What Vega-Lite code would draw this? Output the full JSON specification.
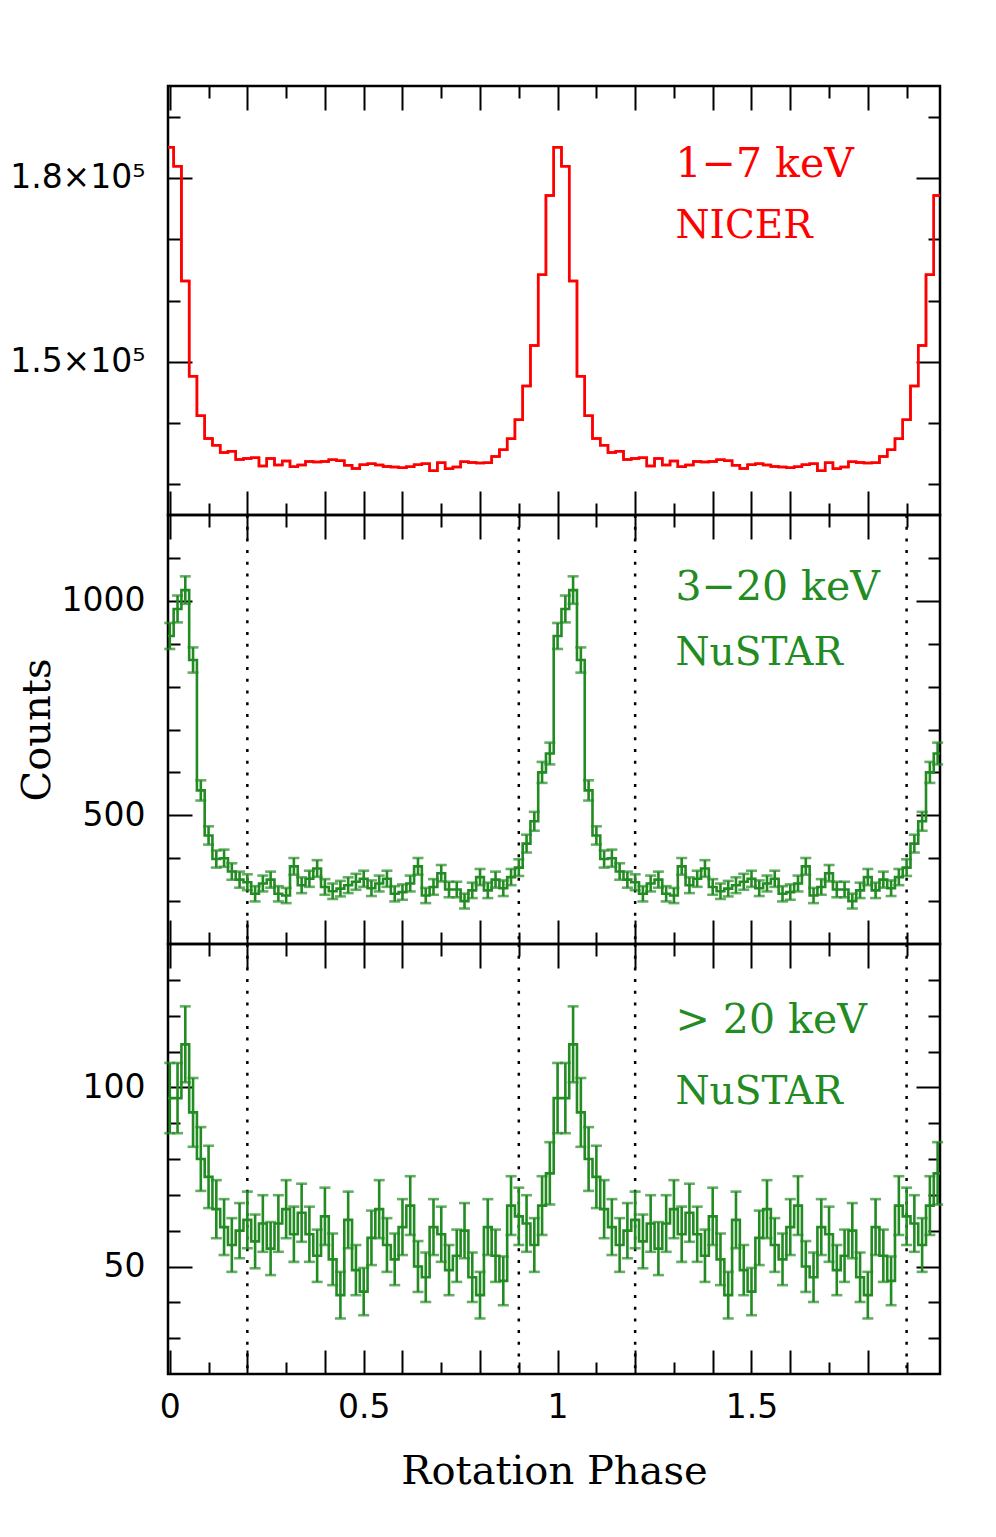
{
"$schema": "https://vega.github.io/schema/vega-lite/v6.json",
"background": "white",
"padding": {"left": 8, "top": 83, "right": 10, "bottom": 10},
"spacing": 0,
"bounds": "flush",
"config": {
 "view": {"stroke": "black", "strokeWidth": 2.5},
 "axis": {"domain": false, "grid": false, "tickColor": "black", "tickWidth": 2, "labelFont": "DejaVu Sans", "labelFontSize": 33, "labelColor": "black", "labelFlush": false, "labelOverlap": false, "labelBound": false, "titleFont": "DejaVu Serif", "titleFontSize": 40, "titleFontWeight": "normal", "titleColor": "black"}
},
"datasets": {
 "nicer": [{"p":-0.02,"c":177130},
{"p":0,"c":185000},{"p":0.02,"c":181900},{"p":0.04,"c":163200},{"p":0.06,"c":147650},{"p":0.08,"c":141200},{"p":0.1,"c":137490},{"p":0.12,"c":136400},{"p":0.14,"c":135200},{"p":0.16,"c":135400},{"p":0.18,"c":134070},{"p":0.2,"c":134200},{"p":0.22,"c":134350},{"p":0.24,"c":133000},{"p":0.26,"c":134200},{"p":0.28,"c":133150},{"p":0.3,"c":133800},{"p":0.32,"c":132880},{"p":0.34,"c":133150},{"p":0.36,"c":133750},{"p":0.38,"c":133650},{"p":0.4,"c":133750},{"p":0.42,"c":134020},{"p":0.44,"c":133850},{"p":0.46,"c":133100},{"p":0.48,"c":132600},{"p":0.5,"c":133200},{"p":0.52,"c":133370},{"p":0.54,"c":133150},{"p":0.56,"c":132930},{"p":0.58,"c":132830},{"p":0.6,"c":132720},{"p":0.62,"c":132880},{"p":0.64,"c":133200},{"p":0.66,"c":133370},{"p":0.68,"c":132230},{"p":0.7,"c":133530},{"p":0.72,"c":132560},{"p":0.74,"c":132830},{"p":0.76,"c":133700},{"p":0.78,"c":133580},{"p":0.8,"c":133480},{"p":0.82,"c":133530},{"p":0.84,"c":134560},{"p":0.86,"c":135650},{"p":0.88,"c":137440},{"p":0.9,"c":140540},{"p":0.92,"c":146030},{"p":0.94,"c":152640},{"p":0.96,"c":164200},{"p":0.98,"c":177130},
{"p":1,"c":185000},{"p":1.02,"c":181900},{"p":1.04,"c":163200},{"p":1.06,"c":147650},{"p":1.08,"c":141200},{"p":1.1,"c":137490},{"p":1.12,"c":136400},{"p":1.14,"c":135200},{"p":1.16,"c":135400},{"p":1.18,"c":134070},{"p":1.2,"c":134200},{"p":1.22,"c":134350},{"p":1.24,"c":133000},{"p":1.26,"c":134200},{"p":1.28,"c":133150},{"p":1.3,"c":133800},{"p":1.32,"c":132880},{"p":1.34,"c":133150},{"p":1.36,"c":133750},{"p":1.38,"c":133650},{"p":1.4,"c":133750},{"p":1.42,"c":134020},{"p":1.44,"c":133850},{"p":1.46,"c":133100},{"p":1.48,"c":132600},{"p":1.5,"c":133200},{"p":1.52,"c":133370},{"p":1.54,"c":133150},{"p":1.56,"c":132930},{"p":1.58,"c":132830},{"p":1.6,"c":132720},{"p":1.62,"c":132880},{"p":1.64,"c":133200},{"p":1.66,"c":133370},{"p":1.68,"c":132230},{"p":1.7,"c":133530},{"p":1.72,"c":132560},{"p":1.74,"c":132830},{"p":1.76,"c":133700},{"p":1.78,"c":133580},{"p":1.8,"c":133480},{"p":1.82,"c":133530},{"p":1.84,"c":134560},{"p":1.86,"c":135650},{"p":1.88,"c":137440},{"p":1.9,"c":140540},{"p":1.92,"c":146030},{"p":1.94,"c":152640},{"p":1.96,"c":164200},{"p":1.98,"c":177130},
{"p":2,"c":185000}],
 "nu1": [{"p":-0.02,"c":644,"e":25.4},
{"p":0,"c":918,"e":30.3},{"p":0.02,"c":981,"e":31.3},{"p":0.04,"c":1025,"e":32.0},{"p":0.06,"c":862,"e":29.4},{"p":0.08,"c":558,"e":23.6},{"p":0.1,"c":453,"e":21.3},{"p":0.12,"c":398,"e":19.9},{"p":0.14,"c":400,"e":20.0},{"p":0.16,"c":369,"e":19.2},{"p":0.18,"c":350,"e":18.7},{"p":0.2,"c":344,"e":18.5},{"p":0.22,"c":317,"e":17.8},{"p":0.24,"c":341,"e":18.5},{"p":0.26,"c":350,"e":18.7},{"p":0.28,"c":317,"e":17.8},{"p":0.3,"c":313,"e":17.7},{"p":0.32,"c":381,"e":19.5},{"p":0.34,"c":337,"e":18.4},{"p":0.36,"c":352,"e":18.8},{"p":0.38,"c":376,"e":19.4},{"p":0.4,"c":333,"e":18.2},{"p":0.42,"c":323,"e":18.0},{"p":0.44,"c":329,"e":18.1},{"p":0.46,"c":337,"e":18.4},{"p":0.48,"c":345,"e":18.6},{"p":0.5,"c":352,"e":18.8},{"p":0.52,"c":330,"e":18.2},{"p":0.54,"c":341,"e":18.5},{"p":0.56,"c":352,"e":18.8},{"p":0.58,"c":317,"e":17.8},{"p":0.6,"c":321,"e":17.9},{"p":0.62,"c":341,"e":18.5},{"p":0.64,"c":381,"e":19.5},{"p":0.66,"c":313,"e":17.7},{"p":0.68,"c":333,"e":18.2},{"p":0.7,"c":365,"e":19.1},{"p":0.72,"c":327,"e":18.1},{"p":0.74,"c":327,"e":18.1},{"p":0.76,"c":300,"e":17.3},{"p":0.78,"c":325,"e":18.0},{"p":0.8,"c":356,"e":18.9},{"p":0.82,"c":325,"e":18.0},{"p":0.84,"c":350,"e":18.7},{"p":0.86,"c":330,"e":18.2},{"p":0.88,"c":356,"e":18.9},{"p":0.9,"c":378,"e":19.4},{"p":0.92,"c":434,"e":20.8},{"p":0.94,"c":486,"e":22.0},{"p":0.96,"c":600,"e":24.5},{"p":0.98,"c":644,"e":25.4},
{"p":1,"c":918,"e":30.3},{"p":1.02,"c":981,"e":31.3},{"p":1.04,"c":1025,"e":32.0},{"p":1.06,"c":862,"e":29.4},{"p":1.08,"c":558,"e":23.6},{"p":1.1,"c":453,"e":21.3},{"p":1.12,"c":398,"e":19.9},{"p":1.14,"c":400,"e":20.0},{"p":1.16,"c":369,"e":19.2},{"p":1.18,"c":350,"e":18.7},{"p":1.2,"c":344,"e":18.5},{"p":1.22,"c":317,"e":17.8},{"p":1.24,"c":341,"e":18.5},{"p":1.26,"c":350,"e":18.7},{"p":1.28,"c":317,"e":17.8},{"p":1.3,"c":313,"e":17.7},{"p":1.32,"c":381,"e":19.5},{"p":1.34,"c":337,"e":18.4},{"p":1.36,"c":352,"e":18.8},{"p":1.38,"c":376,"e":19.4},{"p":1.4,"c":333,"e":18.2},{"p":1.42,"c":323,"e":18.0},{"p":1.44,"c":329,"e":18.1},{"p":1.46,"c":337,"e":18.4},{"p":1.48,"c":345,"e":18.6},{"p":1.5,"c":352,"e":18.8},{"p":1.52,"c":330,"e":18.2},{"p":1.54,"c":341,"e":18.5},{"p":1.56,"c":352,"e":18.8},{"p":1.58,"c":317,"e":17.8},{"p":1.6,"c":321,"e":17.9},{"p":1.62,"c":341,"e":18.5},{"p":1.64,"c":381,"e":19.5},{"p":1.66,"c":313,"e":17.7},{"p":1.68,"c":333,"e":18.2},{"p":1.7,"c":365,"e":19.1},{"p":1.72,"c":327,"e":18.1},{"p":1.74,"c":327,"e":18.1},{"p":1.76,"c":300,"e":17.3},{"p":1.78,"c":325,"e":18.0},{"p":1.8,"c":356,"e":18.9},{"p":1.82,"c":325,"e":18.0},{"p":1.84,"c":350,"e":18.7},{"p":1.86,"c":330,"e":18.2},{"p":1.88,"c":356,"e":18.9},{"p":1.9,"c":378,"e":19.4},{"p":1.92,"c":434,"e":20.8},{"p":1.94,"c":486,"e":22.0},{"p":1.96,"c":600,"e":24.5},{"p":1.98,"c":644,"e":25.4},
{"p":2,"c":918,"e":30.3}],
 "nu2": [{"p":-0.02,"c":76,"e":8.7},
{"p":0,"c":97,"e":9.8},{"p":0.02,"c":97,"e":9.8},{"p":0.04,"c":112,"e":10.6},{"p":0.06,"c":93,"e":9.6},{"p":0.08,"c":80,"e":8.9},{"p":0.1,"c":75,"e":8.7},{"p":0.12,"c":66,"e":8.1},{"p":0.14,"c":61,"e":7.8},{"p":0.16,"c":56,"e":7.5},{"p":0.18,"c":60,"e":7.7},{"p":0.2,"c":63,"e":7.9},{"p":0.22,"c":57,"e":7.5},{"p":0.24,"c":62,"e":7.9},{"p":0.26,"c":55,"e":7.4},{"p":0.28,"c":62,"e":7.9},{"p":0.3,"c":66,"e":8.1},{"p":0.32,"c":59,"e":7.7},{"p":0.34,"c":65,"e":8.1},{"p":0.36,"c":59,"e":7.7},{"p":0.38,"c":53,"e":7.3},{"p":0.4,"c":64,"e":8.0},{"p":0.42,"c":52,"e":7.2},{"p":0.44,"c":42,"e":6.5},{"p":0.46,"c":63,"e":7.9},{"p":0.48,"c":49,"e":7.0},{"p":0.5,"c":43,"e":6.6},{"p":0.52,"c":58,"e":7.6},{"p":0.54,"c":66,"e":8.1},{"p":0.56,"c":56,"e":7.5},{"p":0.58,"c":52,"e":7.2},{"p":0.6,"c":61,"e":7.8},{"p":0.62,"c":67,"e":8.2},{"p":0.64,"c":50,"e":7.1},{"p":0.66,"c":47,"e":6.9},{"p":0.68,"c":61,"e":7.8},{"p":0.7,"c":59,"e":7.7},{"p":0.72,"c":49,"e":7.0},{"p":0.74,"c":53,"e":7.3},{"p":0.76,"c":60,"e":7.7},{"p":0.78,"c":47,"e":6.9},{"p":0.8,"c":42,"e":6.5},{"p":0.82,"c":61,"e":7.8},{"p":0.84,"c":53,"e":7.3},{"p":0.86,"c":46,"e":6.8},{"p":0.88,"c":67,"e":8.2},{"p":0.9,"c":64,"e":8.0},{"p":0.92,"c":62,"e":7.9},{"p":0.94,"c":56,"e":7.5},{"p":0.96,"c":67,"e":8.2},{"p":0.98,"c":76,"e":8.7},
{"p":1,"c":97,"e":9.8},{"p":1.02,"c":97,"e":9.8},{"p":1.04,"c":112,"e":10.6},{"p":1.06,"c":93,"e":9.6},{"p":1.08,"c":80,"e":8.9},{"p":1.1,"c":75,"e":8.7},{"p":1.12,"c":66,"e":8.1},{"p":1.14,"c":61,"e":7.8},{"p":1.16,"c":56,"e":7.5},{"p":1.18,"c":60,"e":7.7},{"p":1.2,"c":63,"e":7.9},{"p":1.22,"c":57,"e":7.5},{"p":1.24,"c":62,"e":7.9},{"p":1.26,"c":55,"e":7.4},{"p":1.28,"c":62,"e":7.9},{"p":1.3,"c":66,"e":8.1},{"p":1.32,"c":59,"e":7.7},{"p":1.34,"c":65,"e":8.1},{"p":1.36,"c":59,"e":7.7},{"p":1.38,"c":53,"e":7.3},{"p":1.4,"c":64,"e":8.0},{"p":1.42,"c":52,"e":7.2},{"p":1.44,"c":42,"e":6.5},{"p":1.46,"c":63,"e":7.9},{"p":1.48,"c":49,"e":7.0},{"p":1.5,"c":43,"e":6.6},{"p":1.52,"c":58,"e":7.6},{"p":1.54,"c":66,"e":8.1},{"p":1.56,"c":56,"e":7.5},{"p":1.58,"c":52,"e":7.2},{"p":1.6,"c":61,"e":7.8},{"p":1.62,"c":67,"e":8.2},{"p":1.64,"c":50,"e":7.1},{"p":1.66,"c":47,"e":6.9},{"p":1.68,"c":61,"e":7.8},{"p":1.7,"c":59,"e":7.7},{"p":1.72,"c":49,"e":7.0},{"p":1.74,"c":53,"e":7.3},{"p":1.76,"c":60,"e":7.7},{"p":1.78,"c":47,"e":6.9},{"p":1.8,"c":42,"e":6.5},{"p":1.82,"c":61,"e":7.8},{"p":1.84,"c":53,"e":7.3},{"p":1.86,"c":46,"e":6.8},{"p":1.88,"c":67,"e":8.2},{"p":1.9,"c":64,"e":8.0},{"p":1.92,"c":62,"e":7.9},{"p":1.94,"c":56,"e":7.5},{"p":1.96,"c":67,"e":8.2},{"p":1.98,"c":76,"e":8.7},
{"p":2,"c":97,"e":9.8}],
 "marks": [{"p":0.2},{"p":0.9},{"p":1.2},{"p":1.9}]
},
"vconcat": [
 {
  "width": 772, "height": 429,
  "layer": [
   {"data": {"name": "nicer"},
    "mark": {"type": "line", "interpolate": "step", "color": "#ff0000", "strokeWidth": 2.5, "clip": true},
    "encoding": {
     "x": {"field": "p", "type": "quantitative", "scale": {"domain": [-0.0046, 1.9861], "nice": false, "zero": false},
      "axis": {"orient": "bottom", "title": null, "labels": false, "values": [0,0.1,0.2,0.3,0.4,0.5,0.6,0.7,0.8,0.9,1,1.1,1.2,1.3,1.4,1.5,1.6,1.7,1.8,1.9],
       "tickSize": {"condition": {"test": "abs(datum.value*5-round(datum.value*5))<0.001 || abs(datum.value*2-round(datum.value*2))<0.001", "value": -24}, "value": -12}}},
     "y": {"field": "c", "type": "quantitative", "scale": {"domain": [125000, 195000], "nice": false, "zero": false},
      "axis": {"orient": "left", "title": null, "values": [130000,140000,150000,160000,170000,180000,190000],
       "labelExpr": "datum.value == 180000 ? '1.8×10⁵' : datum.value == 150000 ? '1.5×10⁵' : ''",
       "labelPadding": 47, "labelBaseline": "middle",
       "tickSize": {"condition": {"test": "datum.value == 150000 || datum.value == 180000", "value": -24}, "value": -12}}}
    }},
   {"data": {"name": "nicer"},
    "mark": {"type": "line", "interpolate": "step", "color": "#ff0000", "strokeWidth": 2.5, "clip": true},
    "encoding": {
     "x": {"field": "p", "type": "quantitative",
      "axis": {"orient": "top", "title": null, "labels": false, "values": [0,0.1,0.2,0.3,0.4,0.5,0.6,0.7,0.8,0.9,1,1.1,1.2,1.3,1.4,1.5,1.6,1.7,1.8,1.9],
       "tickSize": {"condition": {"test": "abs(datum.value*5-round(datum.value*5))<0.001 || abs(datum.value*2-round(datum.value*2))<0.001", "value": -24}, "value": -12}}},
     "y": {"field": "c", "type": "quantitative",
      "axis": {"orient": "right", "title": null, "labels": false, "values": [130000,140000,150000,160000,170000,180000,190000],
       "tickSize": {"condition": {"test": "datum.value == 150000 || datum.value == 180000", "value": -24}, "value": -12}}}
    }},
   {"data": {"values": [{"label": "1−7 keV"}]},
    "mark": {"type": "text", "align": "left", "baseline": "middle", "font": "DejaVu Serif", "fontSize": 41, "color": "#ff0000"},
    "encoding": {"x": {"datum": 1.304, "type": "quantitative", "axis": null}, "y": {"datum": 182070, "type": "quantitative", "axis": null}, "text": {"field": "label"}}},
   {"data": {"values": [{"label": "NICER"}]},
    "mark": {"type": "text", "align": "left", "baseline": "middle", "font": "DejaVu Serif", "fontSize": 39, "color": "#ff0000"},
    "encoding": {"x": {"datum": 1.304, "type": "quantitative", "axis": null}, "y": {"datum": 172130, "type": "quantitative", "axis": null}, "text": {"field": "label"}}}
  ],
  "resolve": {"axis": {"x": "independent", "y": "independent"}}
 },
 {
  "width": 772, "height": 429,
  "layer": [
   {"data": {"name": "marks"},
    "mark": {"type": "rule", "color": "black", "strokeWidth": 2.5, "strokeDash": [3, 8.7]},
    "encoding": {"x": {"field": "p", "type": "quantitative", "axis": null, "scale": {"domain": [-0.0046, 1.9861], "nice": false, "zero": false}}}},
   {"data": {"name": "nu1"},
    "mark": {"type": "line", "interpolate": "step", "color": "#228b22", "strokeWidth": 2.6, "clip": true},
    "encoding": {
     "x": {"field": "p", "type": "quantitative",
      "axis": {"orient": "bottom", "title": null, "labels": false, "values": [0,0.1,0.2,0.3,0.4,0.5,0.6,0.7,0.8,0.9,1,1.1,1.2,1.3,1.4,1.5,1.6,1.7,1.8,1.9],
       "tickSize": {"condition": {"test": "abs(datum.value*5-round(datum.value*5))<0.001 || abs(datum.value*2-round(datum.value*2))<0.001", "value": -24}, "value": -12}}},
     "y": {"field": "c", "type": "quantitative", "scale": {"domain": [200, 1200], "nice": false, "zero": false},
      "axis": {"orient": "left", "title": "Counts", "titlePadding": 4, "values": [300,400,500,600,700,800,900,1000,1100],
       "labelExpr": "datum.value == 1000 ? '1000' : datum.value == 500 ? '500' : ''",
       "labelPadding": 47, "labelBaseline": "middle",
       "tickSize": {"condition": {"test": "datum.value == 500 || datum.value == 1000", "value": -24}, "value": -12}}}
    }},
   {"data": {"name": "nu1"},
    "transform": [{"filter": "datum.p >= 0 && datum.p < 1.99"}],
    "mark": {"type": "errorbar", "ticks": {"size": 11, "thickness": 2.6}, "thickness": 2.6, "color": "#228b22"},
    "encoding": {
     "x": {"field": "p", "type": "quantitative",
      "axis": {"orient": "top", "title": null, "labels": false, "values": [0,0.1,0.2,0.3,0.4,0.5,0.6,0.7,0.8,0.9,1,1.1,1.2,1.3,1.4,1.5,1.6,1.7,1.8,1.9],
       "tickSize": {"condition": {"test": "abs(datum.value*5-round(datum.value*5))<0.001 || abs(datum.value*2-round(datum.value*2))<0.001", "value": -24}, "value": -12}}},
     "y": {"field": "c", "type": "quantitative",
      "axis": {"orient": "right", "title": null, "labels": false, "values": [300,400,500,600,700,800,900,1000,1100],
       "tickSize": {"condition": {"test": "datum.value == 500 || datum.value == 1000", "value": -24}, "value": -12}}},
     "yError": {"field": "e"}
    }},
   {"data": {"values": [{"label": "3−20 keV"}]},
    "mark": {"type": "text", "align": "left", "baseline": "middle", "font": "DejaVu Serif", "fontSize": 41, "color": "#228b22"},
    "encoding": {"x": {"datum": 1.304, "type": "quantitative", "axis": null}, "y": {"datum": 1030, "type": "quantitative", "axis": null}, "text": {"field": "label"}}},
   {"data": {"values": [{"label": "NuSTAR"}]},
    "mark": {"type": "text", "align": "left", "baseline": "middle", "font": "DejaVu Serif", "fontSize": 39, "color": "#228b22"},
    "encoding": {"x": {"datum": 1.304, "type": "quantitative", "axis": null}, "y": {"datum": 879, "type": "quantitative", "axis": null}, "text": {"field": "label"}}}
  ],
  "resolve": {"axis": {"x": "independent", "y": "independent"}}
 },
 {
  "width": 772, "height": 430,
  "layer": [
   {"data": {"name": "marks"},
    "mark": {"type": "rule", "color": "black", "strokeWidth": 2.5, "strokeDash": [3, 8.7]},
    "encoding": {"x": {"field": "p", "type": "quantitative", "axis": null, "scale": {"domain": [-0.0046, 1.9861], "nice": false, "zero": false}}}},
   {"data": {"name": "nu2"},
    "mark": {"type": "line", "interpolate": "step", "color": "#228b22", "strokeWidth": 2.6, "clip": true},
    "encoding": {
     "x": {"field": "p", "type": "quantitative",
      "axis": {"orient": "bottom", "title": "Rotation Phase", "titlePadding": 15, "values": [0,0.1,0.2,0.3,0.4,0.5,0.6,0.7,0.8,0.9,1,1.1,1.2,1.3,1.4,1.5,1.6,1.7,1.8,1.9],
       "labelExpr": "datum.value == 0 ? '0' : datum.value == 0.5 ? '0.5' : datum.value == 1 ? '1' : datum.value == 1.5 ? '1.5' : ''",
       "labelPadding": 41,
       "tickSize": {"condition": {"test": "abs(datum.value*5-round(datum.value*5))<0.001 || abs(datum.value*2-round(datum.value*2))<0.001", "value": -24}, "value": -12}}},
     "y": {"field": "c", "type": "quantitative", "scale": {"domain": [20, 140], "nice": false, "zero": false},
      "axis": {"orient": "left", "title": null, "values": [30,40,50,60,70,80,90,100,110,120,130],
       "labelExpr": "datum.value == 100 ? '100' : datum.value == 50 ? '50' : ''",
       "labelPadding": 47, "labelBaseline": "middle",
       "tickSize": {"condition": {"test": "datum.value == 50 || datum.value == 100", "value": -24}, "value": -12}}}
    }},
   {"data": {"name": "nu2"},
    "transform": [{"filter": "datum.p >= 0 && datum.p < 1.99"}],
    "mark": {"type": "errorbar", "ticks": {"size": 11, "thickness": 2.6}, "thickness": 2.6, "color": "#228b22"},
    "encoding": {
     "x": {"field": "p", "type": "quantitative",
      "axis": {"orient": "top", "title": null, "labels": false, "values": [0,0.1,0.2,0.3,0.4,0.5,0.6,0.7,0.8,0.9,1,1.1,1.2,1.3,1.4,1.5,1.6,1.7,1.8,1.9],
       "tickSize": {"condition": {"test": "abs(datum.value*5-round(datum.value*5))<0.001 || abs(datum.value*2-round(datum.value*2))<0.001", "value": -24}, "value": -12}}},
     "y": {"field": "c", "type": "quantitative",
      "axis": {"orient": "right", "title": null, "labels": false, "values": [30,40,50,60,70,80,90,100,110,120,130],
       "tickSize": {"condition": {"test": "datum.value == 50 || datum.value == 100", "value": -24}, "value": -12}}},
     "yError": {"field": "e"}
    }},
   {"data": {"values": [{"label": "> 20 keV"}]},
    "mark": {"type": "text", "align": "left", "baseline": "middle", "font": "DejaVu Serif", "fontSize": 41, "color": "#228b22"},
    "encoding": {"x": {"datum": 1.304, "type": "quantitative", "axis": null}, "y": {"datum": 118.4, "type": "quantitative", "axis": null}, "text": {"field": "label"}}},
   {"data": {"values": [{"label": "NuSTAR"}]},
    "mark": {"type": "text", "align": "left", "baseline": "middle", "font": "DejaVu Serif", "fontSize": 39, "color": "#228b22"},
    "encoding": {"x": {"datum": 1.304, "type": "quantitative", "axis": null}, "y": {"datum": 98.8, "type": "quantitative", "axis": null}, "text": {"field": "label"}}}
  ],
  "resolve": {"axis": {"x": "independent", "y": "independent"}}
 }
]
}
